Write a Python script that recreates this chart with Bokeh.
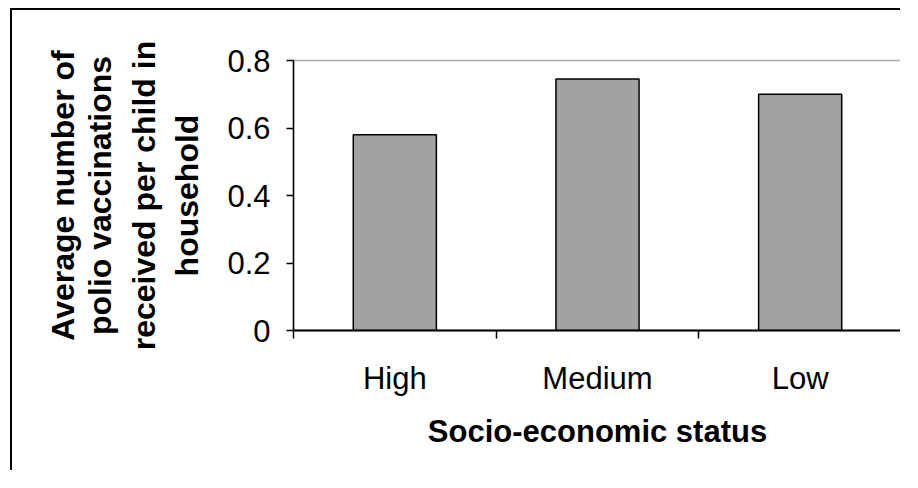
from bokeh.plotting import figure
from bokeh.models import ColumnDataSource, FixedTicker, NumeralTickFormatter, Range1d, LinearAxis
from bokeh.embed import file_html
from bokeh.resources import INLINE

categories = ["High", "Medium", "Low"]
values = [0.58, 0.745, 0.70]
y_ticks = [0, 0.2, 0.4, 0.6, 0.8]
y_label_lines = ["Average number of", "polio vaccinations", "received per child in", "household"]
x_label = "Socio-economic status"

FONT = "Liberation Sans"

centers = [i + 0.5 for i in range(len(categories))]
bounds = [i for i in range(len(categories) + 1)]
source = ColumnDataSource(dict(x=centers, top=values, cat=categories))

p = figure(width=890, height=462, output_backend="svg", toolbar_location=None,
           x_range=Range1d(0, len(categories)), y_range=Range1d(0, 0.8),
           min_border_left=281, min_border_right=1, min_border_top=50, min_border_bottom=142,
           styles={"border-left": "2px solid black", "border-top": "2px solid black",
                   "margin-left": "10px", "margin-top": "8px"})

p.vbar(x="x", top="top", width=0.41, source=source, fill_color="#a2a2a2",
       line_color="black", line_width=1.5)

p.grid.visible = False
p.outline_line_color = "#555555"
p.outline_line_dash = "1 1"
p.outline_line_width = 1.5
p.background_fill_color = "white"
p.border_fill_color = "white"

# x axis
xa = p.xaxis[0]
xa.ticker = FixedTicker(ticks=centers, minor_ticks=bounds)
xa.major_label_overrides = {c: cat for c, cat in zip(centers, categories)}
xa.major_tick_in = 0
xa.major_tick_out = 0
xa.minor_tick_in = 0
xa.minor_tick_out = 8
xa.minor_tick_line_color = "black"
xa.minor_tick_line_width = 1.5
xa.axis_line_color = "black"
xa.axis_line_width = 2
xa.major_label_text_font = FONT
xa.major_label_text_font_size = "31px"
xa.major_label_text_color = "black"
xa.major_label_standoff = 22
xa.axis_label = x_label
xa.axis_label_text_font = FONT
xa.axis_label_text_font_style = "bold"
xa.axis_label_text_font_size = "31px"
xa.axis_label_text_color = "black"
xa.axis_label_standoff = 15

# y axis
ya = p.yaxis[0]
ya.ticker = FixedTicker(ticks=y_ticks)
ya.formatter = NumeralTickFormatter(format="0.[0]")
ya.major_tick_in = 0
ya.major_tick_out = 7
ya.major_tick_line_color = "black"
ya.major_tick_line_width = 1.5
ya.minor_tick_out = 0
ya.minor_tick_in = 0
ya.axis_line_color = "black"
ya.axis_line_width = 1.5
ya.major_label_text_font = FONT
ya.major_label_text_font_size = "31px"
ya.major_label_text_color = "black"
ya.major_label_standoff = 16

# multi-line y label: one label-only axis per line, stacked outward from the frame
standoffs = [-2, 5, 4, 20]
for txt, so in reversed(list(zip(y_label_lines, standoffs))):
    ax = LinearAxis(ticker=FixedTicker(ticks=[]), axis_line_color=None,
                    major_tick_in=0, major_tick_out=0, minor_tick_in=0, minor_tick_out=0,
                    major_label_standoff=0, axis_label=txt, axis_label_standoff=so,
                    axis_label_text_font=FONT, axis_label_text_font_style="bold",
                    axis_label_text_font_size="32px", axis_label_text_color="black")
    p.add_layout(ax, "left")

open("out.html", "w").write(file_html(p, INLINE))
